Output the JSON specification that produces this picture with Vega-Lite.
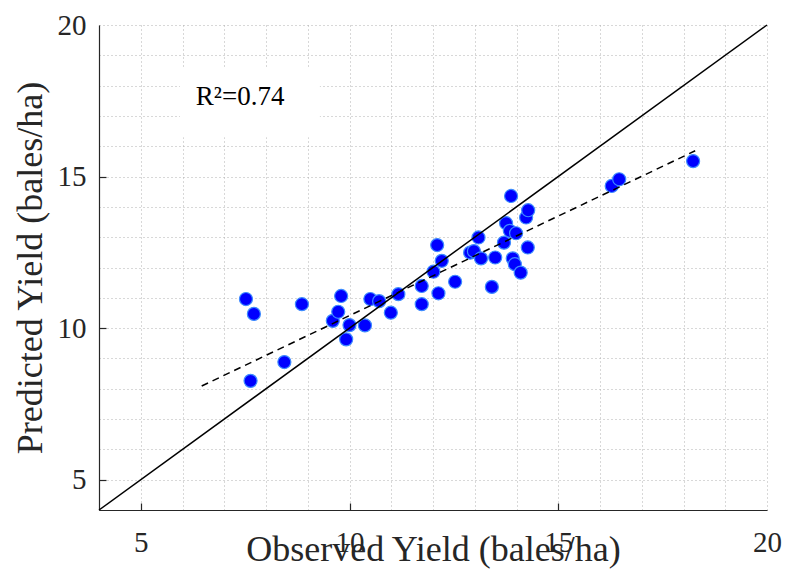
{
  "$schema": "https://vega.github.io/schema/vega-lite/v6.json",
  "width": 668,
  "height": 485,
  "autosize": "none",
  "padding": {"left": 99, "top": 25, "right": 20, "bottom": 68},
  "background": "white",
  "config": {
    "view": {"stroke": null},
    "font": "Liberation Serif",
    "axis": {
      "domainColor": "#262626",
      "domainWidth": 1.2,
      "tickColor": "#262626",
      "tickWidth": 1.2,
      "tickSize": -7,
      "labelFont": "Liberation Serif",
      "labelFontSize": 29,
      "labelColor": "#262626",
      "titleFont": "Liberation Serif",
      "titleFontSize": 36,
      "titleFontWeight": "normal",
      "titleColor": "#262626",
      "gridColor": "#b0b0b0",
      "gridDash": [1, 3],
      "gridWidth": 1,
      "labelFlush": false,
      "labelOverlap": false,
      "labelBound": false
    }
  },
  "datasets": {
    "points": [
      {"x": 7.52, "y": 10.96}, {"x": 7.71, "y": 10.47}, {"x": 7.63, "y": 8.26},
      {"x": 8.44, "y": 8.88}, {"x": 8.86, "y": 10.79}, {"x": 9.60, "y": 10.24},
      {"x": 9.73, "y": 10.54}, {"x": 9.80, "y": 11.06}, {"x": 9.92, "y": 9.63},
      {"x": 10.00, "y": 10.10}, {"x": 10.37, "y": 10.09}, {"x": 10.50, "y": 10.96},
      {"x": 10.71, "y": 10.89}, {"x": 10.99, "y": 10.51}, {"x": 11.17, "y": 11.12},
      {"x": 11.73, "y": 11.39}, {"x": 11.73, "y": 10.79}, {"x": 12.13, "y": 11.15},
      {"x": 12.10, "y": 12.74}, {"x": 12.21, "y": 12.22}, {"x": 12.01, "y": 11.86},
      {"x": 12.53, "y": 11.53}, {"x": 12.89, "y": 12.49}, {"x": 12.98, "y": 12.54},
      {"x": 13.09, "y": 12.99}, {"x": 13.15, "y": 12.30}, {"x": 13.41, "y": 11.36},
      {"x": 13.49, "y": 12.33}, {"x": 13.70, "y": 12.82}, {"x": 13.75, "y": 13.46},
      {"x": 13.84, "y": 13.21}, {"x": 13.99, "y": 13.13}, {"x": 13.87, "y": 14.36},
      {"x": 13.91, "y": 12.30}, {"x": 13.96, "y": 12.11}, {"x": 14.10, "y": 11.83},
      {"x": 14.23, "y": 13.65}, {"x": 14.28, "y": 13.89}, {"x": 14.27, "y": 12.66},
      {"x": 16.28, "y": 14.69}, {"x": 16.46, "y": 14.91}, {"x": 18.23, "y": 15.51}
    ],
    "identity": [{"x": 4, "y": 4}, {"x": 20, "y": 20}],
    "fit": [{"x": 6.46, "y": 8.09}, {"x": 18.28, "y": 15.85}],
    "note": [{"x": 5.94, "x2": 9.29, "y": 18.58, "y2": 16.30, "cx": 7.38, "cy": 17.62, "label": "R²=0.74"}]
  },
  "encoding": {
    "x": {
      "field": "x",
      "type": "quantitative",
      "scale": {"domain": [4, 20], "nice": false, "zero": false},
      "axis": {
        "values": [4, 5, 6, 7, 8, 9, 10, 11, 12, 13, 14, 15, 16, 17, 18, 19, 20],
        "labelExpr": "datum.value % 5 === 0 ? datum.label : ''",
        "tickOpacity": {"condition": {"test": "datum.value % 5 === 0 && datum.value < 20", "value": 1}, "value": 0},
        "labelPadding": 25,
        "title": "Observed Yield (bales/ha)",
        "titleY": 50,
        "titleBaseline": "alphabetic",
        "grid": true
      }
    },
    "y": {
      "field": "y",
      "type": "quantitative",
      "scale": {"domain": [4, 20], "nice": false, "zero": false},
      "axis": {
        "values": [4, 5, 6, 7, 8, 9, 10, 11, 12, 13, 14, 15, 16, 17, 18, 19, 20],
        "labelExpr": "datum.value % 5 === 0 ? datum.label : ''",
        "tickOpacity": {"condition": {"test": "datum.value % 5 === 0 && datum.value < 20", "value": 1}, "value": 0},
        "labelPadding": 20,
        "labelBaseline": "middle",
        "title": "Predicted Yield (bales/ha)",
        "titleX": -58,
        "titleBaseline": "alphabetic",
        "grid": true
      }
    }
  },
  "layer": [
    {
      "data": {"name": "note"},
      "mark": {"type": "rect", "fill": "white", "stroke": null},
      "encoding": {
        "x": {"field": "x", "type": "quantitative"},
        "x2": {"field": "x2"},
        "y": {"field": "y", "type": "quantitative"},
        "y2": {"field": "y2"}
      }
    },
    {
      "data": {"name": "points"},
      "mark": {"type": "point", "filled": true, "fill": "#0000ff", "stroke": "#3d8bff", "strokeWidth": 1.2, "opacity": 1, "size": 170}
    },
    {
      "data": {"name": "identity"},
      "mark": {"type": "line", "color": "black", "strokeWidth": 1.5}
    },
    {
      "data": {"name": "fit"},
      "mark": {"type": "line", "color": "black", "strokeWidth": 1.5, "strokeDash": [7, 5]}
    },
    {
      "data": {"name": "note"},
      "mark": {"type": "text", "font": "Liberation Serif", "fontSize": 27, "color": "black", "align": "center", "baseline": "middle"},
      "encoding": {
        "x": {"field": "cx", "type": "quantitative"},
        "y": {"field": "cy", "type": "quantitative"},
        "text": {"field": "label"}
      }
    }
  ]
}
